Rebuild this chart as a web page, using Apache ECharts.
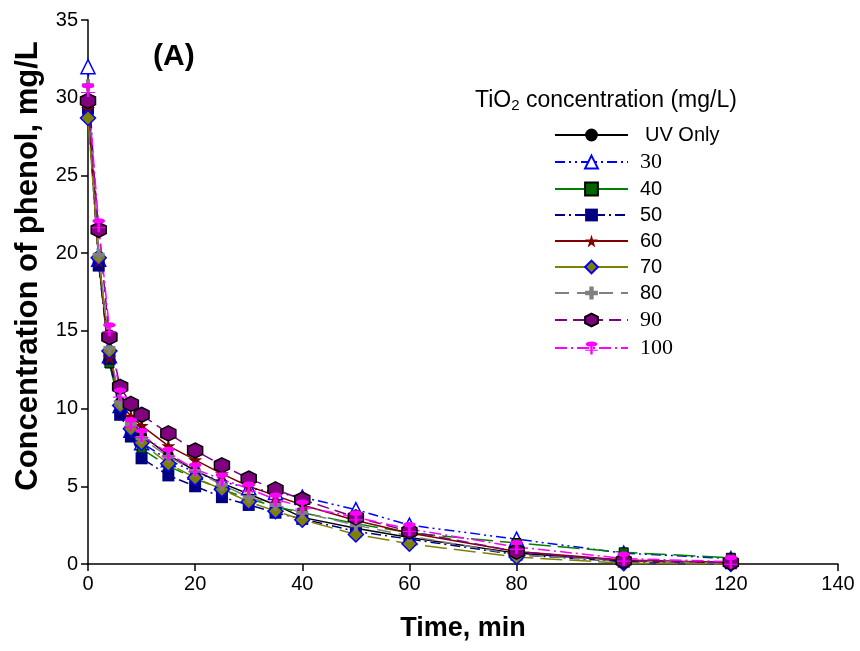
<!DOCTYPE html>
<html>
<head>
<meta charset="utf-8">
<script src="https://cdn.jsdelivr.net/npm/echarts@6/dist/echarts.min.js"></script>
<style>html,body{margin:0;padding:0;background:#fff;}#chart{width:860px;height:651px;}</style>
</head>
<body>
<div id="chart"></div>
<script>
// ---- data ----
var times = [0, 2, 4, 6, 8, 10, 15, 20, 25, 30, 35, 40, 50, 60, 80, 100, 120];
var seriesNames = ['UV Only', '30', '40', '50', '60', '70', '80', '90', '100'];
var uvOnly = [29.9, 19.8, 13.5, 10.4, 9.0, 8.3, 7.0, 6.0, 5.2, 4.5, 3.8, 3.0, 2.3, 1.7, 0.7, 0.2, 0.1];
var c30 = [32.0, 19.6, 13.4, 10.2, 8.6, 7.8, 6.7, 5.9, 5.3, 4.9, 4.6, 4.3, 3.5, 2.5, 1.6, 0.7, 0.35];
var c40 = [29.5, 19.4, 12.9, 10.0, 8.5, 7.4, 6.3, 5.5, 4.8, 4.2, 3.7, 3.3, 2.6, 2.0, 1.35, 0.75, 0.4];
var c50 = [29.3, 19.2, 13.2, 9.6, 8.2, 6.8, 5.7, 5.0, 4.3, 3.8, 3.3, 2.9, 2.1, 1.6, 0.6, 0.15, 0.05];
var c60 = [29.3, 19.5, 13.3, 10.4, 9.5, 8.9, 7.6, 6.7, 5.8, 5.0, 4.4, 3.8, 2.8, 2.0, 0.8, 0.25, 0.1];
var c70 = [28.7, 19.7, 13.7, 10.2, 8.7, 7.8, 6.45, 5.55, 4.8, 4.0, 3.4, 2.85, 1.9, 1.3, 0.45, 0.05, 0.0];
var c80 = [30.8, 19.9, 13.9, 10.4, 9.0, 8.1, 6.9, 6.0, 5.1, 4.3, 3.8, 3.3, 2.5, 1.8, 0.6, 0.2, 0.05];
var c90 = [29.8, 21.5, 14.6, 11.4, 10.3, 9.6, 8.4, 7.3, 6.35, 5.5, 4.8, 4.15, 3.0, 2.1, 0.8, 0.2, 0.1];
var c100 = [30.5, 21.8, 15.1, 10.9, 9.0, 8.3, 7.1, 6.1, 5.45, 4.85, 4.15, 3.7, 3.0, 2.25, 1.1, 0.35, 0.15];
var xTicks = [0, 20, 40, 60, 80, 100, 120, 140];
var yTicks = [0, 5, 10, 15, 20, 25, 30, 35];

// ---- styles ----
var SANS = "'Liberation Sans', Arial, Helvetica, sans-serif";
var SERIF = "'Liberation Serif', 'Times New Roman', serif";
var STAR = 'path://M50,0 L61,35 L98,35 L68,57 L79,91 L50,70 L21,91 L32,57 L2,35 L39,35 Z';
var HEX = 'path://M50,0 L93,25 L93,75 L50,100 L7,75 L7,25 Z';
var PLUS = 'path://M33,0 L67,0 L67,33 L100,33 L100,67 L67,67 L67,100 L33,100 L33,67 L0,67 L0,33 L33,33 Z';
var FEMALE = 'path://M50,0 A20,20 0 1,1 49.9,0 Z M46,38 L54,38 L54,64 L72,64 L72,72 L54,72 L54,100 L46,100 L46,72 L28,72 L28,64 L46,64 Z';

var styles = [
  {data: uvOnly, line: '#000000', dash: 'solid', symbol: 'circle', size: 11, fill: '#000000', border: '#000000', bw: 0},
  {data: c30, line: '#0000ff', dash: [10, 4, 2, 4, 2, 4], symbol: 'triangle', size: 14, fill: '#ffffff', border: '#0000ff', bw: 1.5},
  {data: c40, line: '#008000', dash: [22, 7], symbol: 'rect', size: 9, fill: '#006400', border: '#000000', bw: 1},
  {data: c50, line: '#000080', dash: [10, 4, 2, 4], symbol: 'rect', size: 12, fill: '#000080', border: '#000080', bw: 0},
  {data: c60, line: '#800000', dash: 'solid', symbol: STAR, size: 14, fill: '#800000', border: '#800000', bw: 0},
  {data: c70, line: '#808000', dash: [22, 7], symbol: 'diamond', size: 15, fill: '#808000', border: '#0000ff', bw: 1.5},
  {data: c80, line: '#808080', dash: [14, 8], symbol: PLUS, size: 12, fill: '#808080', border: '#808080', bw: 0},
  {data: c90, line: '#800080', dash: [12, 6], symbol: HEX, size: 15, fill: '#800080', border: '#000000', bw: 1.5},
  {data: c100, line: '#ff00ff', dash: [12, 4, 2, 4], symbol: FEMALE, size: 14, fill: '#ff00ff', border: '#ff00ff', bw: 0}
];

var series = styles.map(function (s, i) {
  return {
    name: seriesNames[i],
    type: 'line',
    data: times.map(function (t, k) { return [t, s.data[k]]; }),
    symbol: s.symbol,
    symbolSize: s.size,
    showAllSymbol: true,
    lineStyle: {color: s.line, width: 1.5, type: s.dash},
    itemStyle: {color: s.fill, borderColor: s.border, borderWidth: s.bw},
    emphasis: {disabled: true},
    animation: false
  };
});

var legendData = seriesNames.map(function (n, i) {
  return {name: n, lineStyle: {type: (i === 2 || i === 5) ? 'solid' : styles[i].dash}};
});

var chart = echarts.init(document.getElementById('chart'), null, {renderer: 'canvas'});
chart.setOption({
  backgroundColor: '#ffffff',
  animation: false,
  grid: {left: 88, right: 22, top: 20, bottom: 87, containLabel: false, outerBoundsMode: 'none'},
  xAxis: {
    type: 'value', min: xTicks[0], max: xTicks[xTicks.length - 1], interval: 20,
    name: 'Time, min', nameLocation: 'middle', nameGap: 51,
    nameTextStyle: {fontFamily: SANS, fontWeight: 'bold', fontSize: 27, color: '#000'},
    axisLine: {show: true, lineStyle: {color: '#000', width: 1.5}},
    axisTick: {show: true, inside: false, length: 7, lineStyle: {color: '#000', width: 1.5}},
    axisLabel: {fontFamily: SANS, fontSize: 20, color: '#000', margin: 10},
    splitLine: {show: false}
  },
  yAxis: {
    type: 'value', min: yTicks[0], max: yTicks[yTicks.length - 1], interval: 5,
    name: 'Concentration of phenol, mg/L', nameLocation: 'middle', nameGap: 44,
    nameTextStyle: {fontFamily: SANS, fontWeight: 'bold', fontSize: 31, color: '#000', padding: [0, 0, 0, 52]},
    axisLine: {show: true, lineStyle: {color: '#000', width: 1.5}},
    axisTick: {show: true, inside: false, length: 7, lineStyle: {color: '#000', width: 1.5}},
    axisLabel: {fontFamily: SANS, fontSize: 20, color: '#000', margin: 10},
    splitLine: {show: false}
  },
  title: {
    text: 'TiO{sub|2} concentration (mg/L)',
    left: 470, top: 84,
    textStyle: {
      fontFamily: SANS, fontSize: 23, fontWeight: 'normal', color: '#000',
      rich: {sub: {fontFamily: SANS, fontSize: 15, verticalAlign: 'bottom', padding: [9, 0, 0, 0], color: '#000'}}
    }
  },
  graphic: [{
    type: 'text', left: 153, top: 42,
    style: {text: '(A)', font: 'bold 30px ' + SANS, fill: '#000'}
  }],
  legend: {
    orient: 'vertical', left: 549, top: 120,
    itemWidth: 73, itemHeight: 16, itemGap: 6,
    data: legendData,
    formatter: function (name) {
      if (name === 'UV Only') return '{u|' + name + '}';
      if (name === '30' || name === '90' || name === '100') return '{t|' + name + '}';
      return '{s|' + name + '}';
    },
    textStyle: {
      color: '#000',
      rich: {
        u: {fontFamily: SANS, fontSize: 20, height: 20, lineHeight: 20, padding: [0, 0, 0, 12], color: '#000'},
        s: {fontFamily: SANS, fontSize: 20, height: 20, lineHeight: 20, padding: [0, 0, 0, 7], color: '#000'},
        t: {fontFamily: SERIF, fontSize: 22, height: 20, lineHeight: 20, padding: [0, 0, 0, 7], color: '#000'}
      }
    },
    selectedMode: false
  },
  series: series
});
</script>
</body>
</html>
